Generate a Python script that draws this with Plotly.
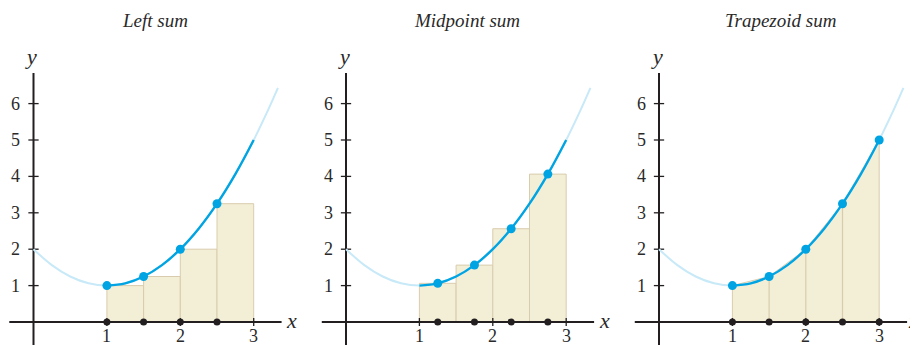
import plotly.graph_objects as go

# ---------------- data ----------------
titles = ["Left sum", "Midpoint sum", "Trapezoid sum"]

# curve samples
curve_x = [0, 0.25, 0.5, 0.75, 1, 1.25, 1.5, 1.75, 2, 2.25, 2.5, 2.75, 3, 3.2, 3.33]
curve_y = [2, 1.5625, 1.25, 1.0625, 1, 1.0625, 1.25, 1.5625, 2, 2.5625, 3.25, 4.0625, 5, 5.84, 6.43]

# partition / sample points
left_x = [1, 1.5, 2, 2.5]
left_y = [1, 1.25, 2, 3.25]
mid_x = [1.25, 1.75, 2.25, 2.75]
mid_y = [1.0625, 1.5625, 2.5625, 4.0625]
trap_x = [1, 1.5, 2, 2.5, 3]
trap_y = [1, 1.25, 2, 3.25, 5]
bar_centers = [1.25, 1.75, 2.25, 2.75]

x_ticks = [1, 2, 3]
y_ticks = [1, 2, 3, 4, 5, 6]

# ---------------- style ----------------
AX = "#231f20"
BLUE = "#00a4e2"
LIGHT = "#c8e9f8"
FILL = "#f3eed6"
EDGE = "#d9ccae"
FONT = "Liberation Serif"

W, H = 918, 345
PAGE_OFF = 8  # default body margin of the page
px_per_x = 73.4
px_per_y = 36.4
origins_px = [33.5 - PAGE_OFF, 346.0 - PAGE_OFF, 659.0 - PAGE_OFF]
zero_y_px = 322.0 - PAGE_OFF
x_label_pos = [3.52, 3.52, 3.47]

fig = go.Figure()
layout = dict(
    width=W, height=H, margin=dict(l=0, r=0, t=0, b=0),
    paper_bgcolor="white", plot_bgcolor="white", showlegend=False,
)

bounds = [0, 306, 612, 918]
annotations = []
for i in range(3):
    xa = "xaxis" if i == 0 else f"xaxis{i+1}"
    ya = "yaxis" if i == 0 else f"yaxis{i+1}"
    xr = "x" if i == 0 else f"x{i+1}"
    yr = "y" if i == 0 else f"y{i+1}"
    o = origins_px[i]
    x0 = (bounds[i] - o) / px_per_x
    x1 = (bounds[i + 1] - o) / px_per_x
    layout[xa] = dict(domain=[bounds[i] / W, bounds[i + 1] / W], range=[x0, x1],
                      visible=False, anchor=yr)
    layout[ya] = dict(domain=[0, 1], range=[-(H - zero_y_px) / px_per_y, zero_y_px / px_per_y],
                      visible=False, anchor=xr)

    def add(tr):
        tr.update(xaxis=xr, yaxis=yr, hoverinfo="skip")
        fig.add_trace(tr)

    # area pieces
    if i == 0:
        add(go.Bar(x=bar_centers, y=left_y, width=0.5, marker=dict(color=FILL, line=dict(color=EDGE, width=1))))
    elif i == 1:
        add(go.Bar(x=bar_centers, y=mid_y, width=0.5, marker=dict(color=FILL, line=dict(color=EDGE, width=1))))
    else:
        px_ = [trap_x[0]] + trap_x + [trap_x[-1], trap_x[0]]
        py_ = [0] + trap_y + [0, 0]
        add(go.Scatter(x=px_, y=py_, mode="lines", fill="toself", fillcolor=FILL,
                       line=dict(color=EDGE, width=1)))
        vx, vy = [], []
        for xv, yv in zip(trap_x[1:-1], trap_y[1:-1]):
            vx += [xv, xv, None]
            vy += [0, yv, None]
        add(go.Scatter(x=vx, y=vy, mode="lines", line=dict(color=EDGE, width=1.2)))

    # axes
    add(go.Scatter(x=[-0.33, 3.38], y=[0, 0], mode="lines", line=dict(color=AX, width=2)))
    add(go.Scatter(x=[0, 0], y=[-0.8, 6.84], mode="lines", line=dict(color=AX, width=2)))
    tx, ty = [], []
    for v in y_ticks:
        tx += [-0.07, 0.07, None]
        ty += [v, v, None]
    for v in x_ticks:
        tx += [v, v, None]
        ty += [-0.11, 0.11, None]
    add(go.Scatter(x=tx, y=ty, mode="lines", line=dict(color=AX, width=1.3)))

    # curves
    add(go.Scatter(x=curve_x, y=curve_y, mode="lines", line=dict(color=LIGHT, width=2, shape="spline")))
    dx = [a for a in curve_x if 1 <= a <= 3]
    dy = [b for a, b in zip(curve_x, curve_y) if 1 <= a <= 3]
    add(go.Scatter(x=dx, y=dy, mode="lines", line=dict(color=BLUE, width=2.4, shape="spline")))

    # points
    if i == 0:
        sx, sy, bx = left_x, left_y, left_x
    elif i == 1:
        sx, sy, bx = mid_x, mid_y, mid_x
    else:
        sx, sy, bx = trap_x, trap_y, trap_x
    add(go.Scatter(x=bx, y=[0] * len(bx), mode="markers", marker=dict(color=AX, size=7)))
    add(go.Scatter(x=sx, y=sy, mode="markers", marker=dict(color=BLUE, size=9)))

    # tick labels
    for v in y_ticks:
        annotations.append(dict(x=-0.24, y=v, xref=xr, yref=yr, text=str(v), showarrow=False,
                                font=dict(family=FONT, size=18, color="#2a2a2a")))
    for v in x_ticks:
        annotations.append(dict(x=v, y=-0.39, xref=xr, yref=yr, text=str(v), showarrow=False,
                                font=dict(family=FONT, size=18, color="#2a2a2a")))
    annotations.append(dict(x=x_label_pos[i], y=0.04, xref=xr, yref=yr, text="<i>x</i>", showarrow=False,
                            font=dict(family=FONT, size=22, color="#2a2a2a")))
    annotations.append(dict(x=-0.03, y=7.3, xref=xr, yref=yr, text="<i>y</i>", showarrow=False,
                            font=dict(family=FONT, size=22, color="#2a2a2a")))
    annotations.append(dict(x=1.65, y=1, xref=xr, yref="paper", yanchor="top", text=f"<i>{titles[i]}</i>",
                            showarrow=False, font=dict(family=FONT, size=19, color="#2a2a2a")))

layout["annotations"] = annotations
layout["barmode"] = "overlay"
fig.update_layout(**layout)
fig.write_html("out.html")
